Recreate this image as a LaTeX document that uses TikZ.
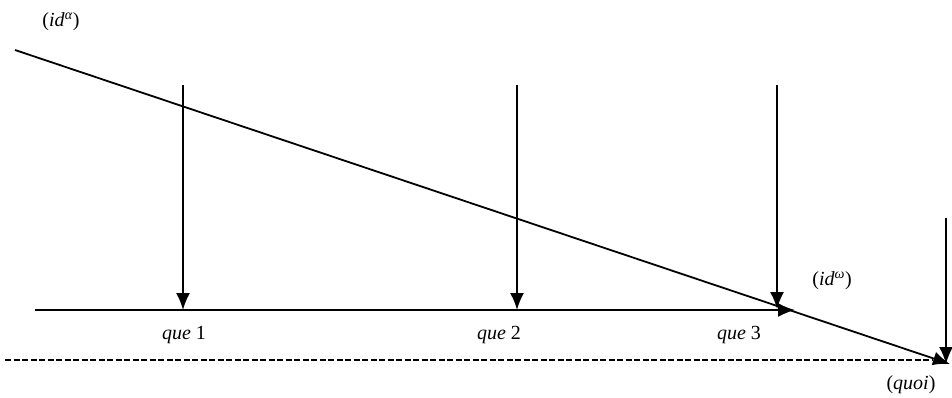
\documentclass[tikz,border=0pt]{standalone}
\usepackage{fontspec}
\setmainfont{Liberation Serif}
\usetikzlibrary{arrows.meta}
\begin{document}
\begin{tikzpicture}[x=1pt,y=-1pt,
  ln/.style={line width=1.8pt},
  arr/.style={ln,-{Latex[length=17pt,width=14pt]}},
  lbl/.style={inner sep=0pt,font=\fontsize{20}{22}\selectfont}]
\useasboundingbox (0,0) rectangle (952,398);
% nodes / coordinates
\coordinate (dstart) at (15,50);
\coordinate (dend) at (950,364);
\coordinate (hstart) at (35,310);
\coordinate (hend) at (795,310);
\coordinate (v1t) at (183,85);
\coordinate (v1b) at (183,310);
\coordinate (v2t) at (517,85);
\coordinate (v2b) at (517,310);
\coordinate (v3t) at (777,85);
\coordinate (v3b) at (777,309);
\coordinate (v4t) at (946,218);
\coordinate (v4b) at (946,364);
\coordinate (dashs) at (5,360);
\coordinate (dashe) at (932,360);
% lines
\draw[arr] (dstart) -- (dend);
\draw[arr] (hstart) -- (hend);
\draw[arr] (v1t) -- (v1b);
\draw[arr] (v2t) -- (v2b);
\draw[arr] (v3t) -- (v3b);
\draw[arr] (v4t) -- (v4b);
\draw[line width=1.4pt,dash pattern=on 6pt off 2.5pt] (dashs) -- (dashe);
% labels
\node[lbl] (ida) at (61,22) {(\textit{id}\textsuperscript{\textit{α}})};
\node[lbl] (q1) at (184,335) {\textit{que} 1};
\node[lbl] (q2) at (499,335) {\textit{que} 2};
\node[lbl] (q3) at (739,335) {\textit{que} 3};
\node[lbl] (idw) at (832,281) {(\textit{id}\textsuperscript{\textit{ω}})};
\node[lbl] (quoi) at (911,385) {(\textit{quoi})};
\end{tikzpicture}
\end{document}
